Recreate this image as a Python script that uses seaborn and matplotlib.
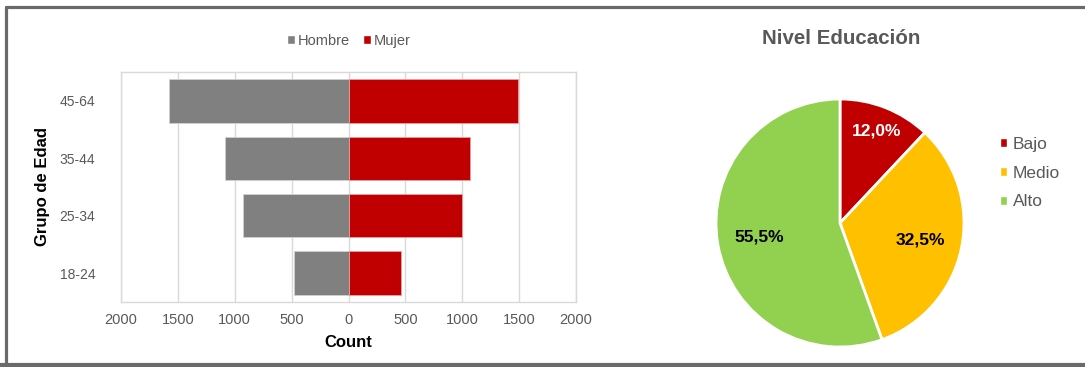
import numpy as np
import pandas as pd
import matplotlib
matplotlib.use("Agg")
import matplotlib.pyplot as plt
import seaborn as sns
from matplotlib.lines import Line2D
from matplotlib.patches import Patch

# ---- data ----
age_groups = ["45-64", "35-44", "25-34", "18-24"]
hombre = [1580, 1090, 930, 475]
mujer = [1490, 1070, 1000, 465]
xticks_vals = [-2000, -1500, -1000, -500, 0, 500, 1000, 1500, 2000]
xtick_labels = ["2000", "1500", "1000", "500", "0", "500", "1000", "1500", "2000"]

edu_levels = ["Bajo", "Medio", "Alto"]
edu_pct = [12.0, 32.5, 55.5]
edu_colors = ["#C00000", "#FFC000", "#92D050"]
pct_text_colors = ["white", "black", "black"]
pct_dist = [0.8, 0.66, 0.66]

GRAY = "#808080"
RED = "#C00000"
TXT = "#595959"

sns.set_theme(style="white")
plt.rcParams['font.family'] = ['Liberation Sans', 'DejaVu Sans']

W, H = 1085, 367
fig = plt.figure(figsize=(W / 100, H / 100), dpi=100)
fig.patch.set_facecolor("white")

def fx(px):
    return px / W

def fy(py):
    return 1 - py / H

# ---- population pyramid ----
ax = fig.add_axes([fx(121), fy(301.7), fx(576) - fx(121), fy(72.3) - fy(301.7)])
df = pd.DataFrame({"Grupo": age_groups,
                   "Hombre": [-v for v in hombre],
                   "Mujer": mujer})
sns.barplot(data=df, x="Hombre", y="Grupo", order=age_groups, color=GRAY,
            orient="h", width=0.76, saturation=1, ax=ax,
            edgecolor="#d0d0d0", linewidth=0.6, zorder=3)
sns.barplot(data=df, x="Mujer", y="Grupo", order=age_groups, color=RED,
            orient="h", width=0.76, saturation=1, ax=ax,
            edgecolor="#e8a0a0", linewidth=0.6, zorder=3)
ax.set_xlim(-2000, 2000)
ax.set_ylim(3.5, -0.5)
ax.set_xticks(xticks_vals)
ax.set_xticklabels(xtick_labels)
ax.grid(axis="x", color="#D9D9D9", linewidth=1.0, zorder=0)
ax.grid(axis="y", visible=False)
for s in ax.spines.values():
    s.set_color("#D9D9D9")
    s.set_linewidth(1.0)
ax.tick_params(axis="both", length=0, labelsize=10.5, labelcolor=TXT, pad=8)
ax.tick_params(axis="y", pad=18.5, labelsize=10)
ax.set_xlabel("Count", fontsize=12, fontweight="bold", color="black", labelpad=6)
ax.set_ylabel("Grupo de Edad", fontsize=12, fontweight="bold", color="black", labelpad=7)

handles = [Patch(facecolor=GRAY, label="Hombre"), Patch(facecolor=RED, label="Mujer")]
fig.legend(handles=handles, loc="center", bbox_to_anchor=(fx(349), fy(41)),
           ncol=2, frameon=False, fontsize=10.5, labelcolor=TXT,
           handlelength=0.55, handleheight=0.55, handletextpad=0.2,
           columnspacing=0.9)

# ---- pie ----
r = 124
cx, cy = 840, 223
pax = fig.add_axes([fx(cx - r), fy(cy + r), 2 * r / W, 2 * r / H])
wedges, texts, autotexts = pax.pie(
    edu_pct, colors=edu_colors, startangle=90, counterclock=False,
    autopct=lambda p: f"{p:.1f}%".replace(".", ","), pctdistance=1.0,
    wedgeprops=dict(edgecolor="white", linewidth=2),
    textprops=dict(fontsize=12.5, fontweight="bold"))
for t, c, d in zip(autotexts, pct_text_colors, pct_dist):
    t.set_color(c)
    x0, y0 = t.get_position()
    t.set_position((x0 * d, y0 * d))
pax.set_xlim(-1, 1)
pax.set_ylim(-1, 1)
pax.set_aspect("equal")

fig.text(fx(841), fy(38), "Nivel Educación", ha="center", va="center",
         fontsize=14.8, fontweight="bold", color=TXT)

leg_handles = [Patch(facecolor=c, label=l) for c, l in zip(edu_colors, edu_levels)]
fig.legend(handles=leg_handles, loc="upper left", bbox_to_anchor=(fx(984), fy(121)),
           frameon=False, fontsize=12.5, labelcolor=TXT,
           handlelength=0.42, handleheight=0.42, handletextpad=0.35,
           labelspacing=0.8)

# ---- outer border ----
bc = "#6a6a6a"
fig.add_artist(Line2D([fx(5.5), 1], [fy(6.5), fy(6.5)], color=bc, linewidth=2.3,
                      transform=fig.transFigure))
fig.add_artist(Line2D([fx(5.5), fx(5.5)], [fy(6.5), 0], color=bc, linewidth=2.3,
                      transform=fig.transFigure))
fig.add_artist(Line2D([0, 1], [fy(365), fy(365)], color=bc, linewidth=3,
                      transform=fig.transFigure))

fig.savefig("out.png", dpi=100, facecolor="white")
